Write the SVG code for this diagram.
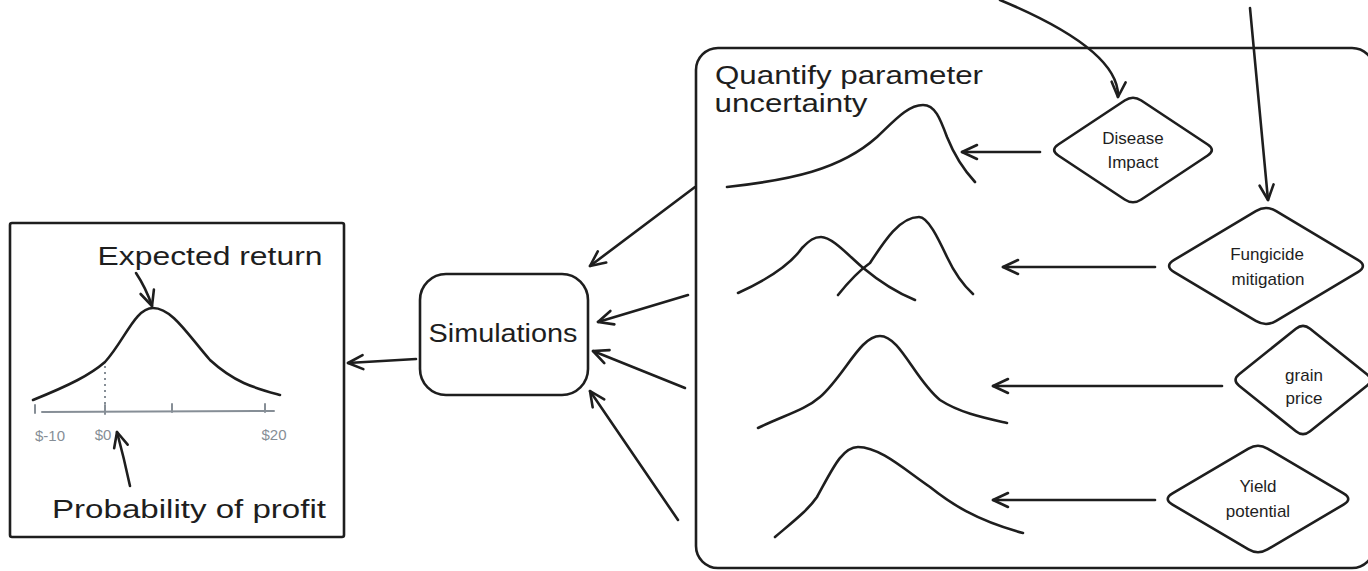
<svg xmlns="http://www.w3.org/2000/svg" width="1368" height="571" viewBox="0 0 1368 571">
<defs>
<style>
.s{fill:none;stroke:#1e1e1e;stroke-width:2.6;stroke-linecap:round;stroke-linejoin:round}
.g{fill:none;stroke:#868e96;stroke-width:2;stroke-linecap:round}
.t{font-family:"Liberation Sans","Noto Sans",sans-serif;fill:#1e1e1e;text-anchor:middle}
.big{font-size:25px}
.sm{font-size:17px}
.gl{font-family:"Liberation Sans",sans-serif;font-size:15px;fill:#868e96;text-anchor:middle}
.c{stroke:#1e1e1e;stroke-width:2.6;fill:none;stroke-linecap:round;marker-end:url(#ah)}
</style>
<marker id="ah" viewBox="-17 -10 19 20" refX="0" refY="0" markerWidth="19" markerHeight="20" markerUnits="userSpaceOnUse" orient="auto">
<path d="M-15,-7 L0,0 L-15,7" fill="none" stroke="#1e1e1e" stroke-width="2.6" stroke-linecap="round" stroke-linejoin="round"/>
</marker>
</defs>
<rect width="1368" height="571" fill="#ffffff"/>

<g id="result-panel">
<rect class="s" x="10" y="223" width="334" height="314" rx="2"/>
<text class="t big" x="210" y="265" textLength="225" lengthAdjust="spacingAndGlyphs">Expected return</text>
<path class="s" d="M33,400 C70,385 90,375 105,362 C125,340 135,308 153,308 C172,308 188,335 210,360 C235,383 255,388 280,395"/>
<line x1="105" y1="366" x2="105" y2="406" stroke="#868e96" stroke-width="2" stroke-dasharray="2 4"/>
<line class="g" x1="42" y1="412" x2="274" y2="411"/>
<line class="g" x1="35" y1="405" x2="35" y2="413"/>
<line class="g" x1="105" y1="405" x2="105" y2="414"/>
<line class="g" x1="172" y1="404" x2="172" y2="412"/>
<line class="g" x1="265" y1="404" x2="265" y2="412"/>
<text class="gl" x="50" y="441">$-10</text>
<text class="gl" x="103" y="440">$0</text>
<text class="gl" x="274" y="440">$20</text>
<path class="c" d="M136,273 Q146,288 152,306"/>
<path class="c" d="M130,486 Q124,458 117,432"/>
<text class="t big" x="189" y="518" textLength="274" lengthAdjust="spacingAndGlyphs">Probability of profit</text>
</g>

<g id="simulations">
<rect class="s" x="420" y="274" width="168" height="121" rx="26"/>
<text class="t big" x="503" y="342" textLength="149" lengthAdjust="spacingAndGlyphs">Simulations</text>
</g>

<g id="uncertainty-container">
<rect class="s" x="696" y="48" width="678" height="520" rx="22"/>
<text class="t big" x="849" y="84" textLength="268" lengthAdjust="spacingAndGlyphs">Quantify parameter</text>
<text class="t big" x="791" y="112" textLength="153" lengthAdjust="spacingAndGlyphs">uncertainty</text>
</g>

<g id="dist-disease">
<path class="s" d="M727,187 C790,180 840,170 877,137 C895,120 908,105 923,105 C935,105 940,118 947,137 C953,152 962,168 975,182"/>
</g>
<g id="dist-fungicide">
<path class="s" d="M738,293 C760,283 788,268 802,248 C810,240 814,237 821,237 C832,237 848,255 862,267 C880,282 900,294 915,300"/>
<path class="s" d="M838,295 C850,280 860,270 870,263 C885,240 900,217 919,217 C928,217 938,238 947,257 C955,274 962,284 973,294"/>
</g>
<g id="dist-grain">
<path class="s" d="M758,428 C785,415 805,410 820,397 C845,375 860,336 880,336 C900,336 915,380 940,400 C960,413 985,418 1007,423"/>
</g>
<g id="dist-yield">
<path class="s" d="M775,537 C795,520 808,510 817,497 C832,470 842,447 858,447 C880,447 905,470 930,487 C950,503 975,520 1023,533"/>
</g>

<g id="disease-impact">
<path class="s" d="M1058.3,144.5 L1124.7,100.5 Q1133,95 1141.3,100.5 L1207.7,144.5 Q1216,150 1207.7,155.5 L1141.3,199.5 Q1133,205 1124.7,199.5 L1058.3,155.5 Q1050,150 1058.3,144.5 Z"/>
<text class="t sm" x="1133" y="144">Disease</text>
<text class="t sm" x="1133" y="168">Impact</text>
</g>
<g id="fungicide-mitigation">
<path class="s" d="M1174.2,259.9 L1255.8,211.1 Q1266,205 1276.2,211.1 L1357.8,259.9 Q1368,266 1357.8,272.1 L1276.2,320.9 Q1266,327 1255.8,320.9 L1174.2,272.1 Q1164,266 1174.2,259.9 Z"/>
<text class="t sm" x="1267" y="260">Fungicide</text>
<text class="t sm" x="1268" y="285">mitigation</text>
</g>
<g id="grain-price">
<path class="s" d="M1239.1,374.3 L1295.9,328.7 Q1303,323 1310.1,328.7 L1366.9,374.3 Q1374,380 1366.9,385.7 L1310.1,431.3 Q1303,437 1295.9,431.3 L1239.1,385.7 Q1232,380 1239.1,374.3 Z"/>
<text class="t sm" x="1304" y="381">grain</text>
<text class="t sm" x="1304" y="404">price</text>
</g>
<g id="yield-potential">
<path class="s" d="M1172.5,493.4 L1248.5,448.6 Q1258,443 1267.5,448.6 L1343.5,493.4 Q1353,499 1343.5,504.6 L1267.5,549.4 Q1258,555 1248.5,549.4 L1172.5,504.6 Q1163,499 1172.5,493.4 Z"/>
<text class="t sm" x="1258" y="492">Yield</text>
<text class="t sm" x="1258" y="517">potential</text>
</g>

<g id="connectors">
<line class="c" x1="416" y1="359" x2="348" y2="363"/>
<line class="c" x1="695" y1="187" x2="590" y2="266"/>
<line class="c" x1="688" y1="295" x2="598" y2="322"/>
<line class="c" x1="685" y1="388" x2="593" y2="351"/>
<line class="c" x1="678" y1="520" x2="590" y2="391"/>
<line class="c" x1="1040" y1="152" x2="962" y2="152"/>
<line class="c" x1="1155" y1="267" x2="1003" y2="267"/>
<line class="c" x1="1222" y1="386" x2="993" y2="386"/>
<line class="c" x1="1155" y1="500" x2="993" y2="500"/>
<path class="c" d="M1000,0 Q1120,50 1118,97"/>
<line class="c" x1="1250" y1="8" x2="1268" y2="200"/>
</g>
</svg>
